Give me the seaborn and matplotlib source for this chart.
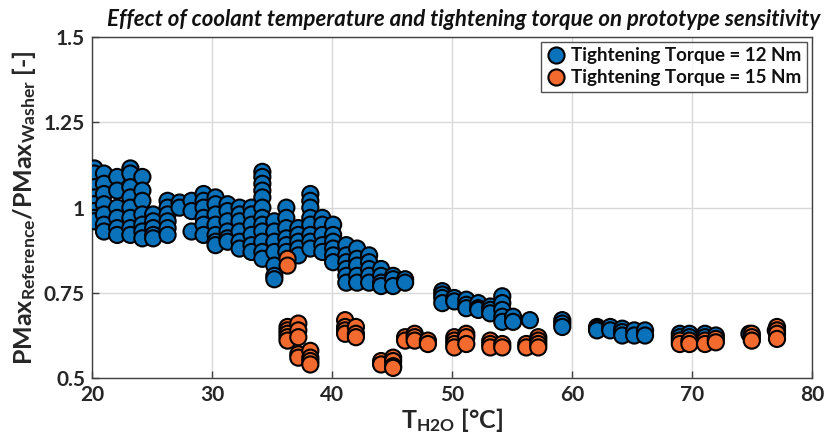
import numpy as np
import pandas as pd
import matplotlib
matplotlib.use("Agg")
import matplotlib.pyplot as plt
import seaborn as sns

# ---- data ----
blue_cols_x = [20.2, 21.0, 22.1, 23.2, 24.2, 25.1, 26.3, 27.3, 28.3, 29.3,
               30.3, 31.3, 32.3, 33.3, 34.2, 35.2, 36.2, 37.2, 38.2, 39.2,
               40.1, 41.2, 42.1, 43.1, 44.1, 45.1, 46.1, 49.2, 50.2, 51.2,
               52.2, 53.2, 54.2, 55.1, 56.5, 59.2, 62.1, 63.2, 64.2, 65.2,
               66.1, 69.0, 69.8, 71.1, 72.0, 74.8, 77.0]
blue_cols_y = [
    [1.115, 1.10, 1.06, 1.03, 1.01, 0.99, 0.97, 0.96],
    [1.10, 1.07, 1.04, 1.01, 0.98, 0.95, 0.93],
    [1.09, 1.05, 1.00, 0.97, 0.94, 0.92],
    [1.115, 1.10, 1.06, 1.03, 1.00, 0.97, 0.94, 0.92],
    [1.09, 1.05, 1.02, 0.98, 0.95, 0.93, 0.91],
    [0.98, 0.96, 0.94, 0.92, 0.91],
    [1.02, 1.00, 0.98, 0.96, 0.94, 0.92],
    [1.015, 1.00],
    [1.02, 0.99, 0.93],
    [1.04, 1.02, 1.00, 0.97, 0.95, 0.92],
    [1.03, 1.01, 0.98, 0.95, 0.92, 0.90, 0.89],
    [1.01, 0.99, 0.96, 0.93, 0.91, 0.90],
    [1.00, 0.98, 0.96, 0.93, 0.90, 0.88],
    [1.00, 0.98, 0.95, 0.92, 0.89, 0.87],
    [1.105, 1.09, 1.07, 1.05, 1.03, 1.00, 0.97, 0.95, 0.93, 0.90, 0.87, 0.85],
    [0.96, 0.93, 0.90, 0.87, 0.83, 0.80, 0.79],
    [1.00, 0.97, 0.94, 0.91, 0.89, 0.87],
    [0.94, 0.92, 0.90, 0.88, 0.86],
    [1.04, 1.02, 1.00, 0.97, 0.95, 0.92, 0.90, 0.88],
    [0.97, 0.95, 0.92, 0.89, 0.87],
    [0.95, 0.92, 0.90, 0.88, 0.86, 0.84],
    [0.89, 0.86, 0.84, 0.82, 0.80, 0.78],
    [0.88, 0.85, 0.83, 0.80, 0.78],
    [0.86, 0.84, 0.82, 0.80, 0.78],
    [0.82, 0.80, 0.78, 0.77],
    [0.80, 0.79, 0.77],
    [0.79, 0.78],
    [0.755, 0.745, 0.735, 0.72],
    [0.735, 0.725],
    [0.73, 0.715, 0.705],
    [0.72, 0.705, 0.70],
    [0.71, 0.70, 0.69],
    [0.74, 0.72, 0.70, 0.68, 0.665],
    [0.68, 0.665],
    [0.67],
    [0.67, 0.66, 0.65],
    [0.65, 0.645, 0.64],
    [0.65, 0.64],
    [0.645, 0.635, 0.625],
    [0.64, 0.625],
    [0.64, 0.625],
    [0.63, 0.62],
    [0.63, 0.62],
    [0.63, 0.62],
    [0.625],
    [0.63],
    [0.64],
]

orange_cols_x = [36.3, 37.2, 38.2, 41.1, 42.0, 44.1, 45.1, 46.1, 46.9, 48.0,
                 50.2, 51.2, 53.2, 54.2, 56.2, 57.2, 69.0, 69.8, 71.1, 72.0,
                 75.0, 77.1]
orange_cols_y = [
    [0.85, 0.83, 0.65, 0.64, 0.63, 0.62, 0.61],
    [0.66, 0.64, 0.62, 0.57, 0.56],
    [0.58, 0.56, 0.55, 0.54],
    [0.67, 0.65, 0.64, 0.63],
    [0.65, 0.63, 0.62],
    [0.55, 0.54],
    [0.56, 0.55, 0.535, 0.53],
    [0.62, 0.61],
    [0.63, 0.62, 0.61],
    [0.61, 0.60],
    [0.62, 0.61, 0.60, 0.59],
    [0.63, 0.62, 0.60],
    [0.61, 0.60, 0.59],
    [0.60, 0.59],
    [0.60, 0.59],
    [0.62, 0.61, 0.60, 0.59],
    [0.61, 0.60],
    [0.61, 0.60],
    [0.61, 0.60],
    [0.615, 0.605],
    [0.63, 0.62, 0.61],
    [0.65, 0.64, 0.63, 0.615],
]

labels = ["Tightening Torque = 12 Nm", "Tightening Torque = 15 Nm"]
x_ticks = [20, 30, 40, 50, 60, 70, 80]
y_ticks = [0.5, 0.75, 1.0, 1.25, 1.5]
y_tick_labels = ["0.5", "0.75", "1", "1.25", "1.5"]

rows = []
for lab, xs, ys in [(labels[0], blue_cols_x, blue_cols_y),
                    (labels[1], orange_cols_x, orange_cols_y)]:
    for xv, col in zip(xs, ys):
        for yv in col:
            rows.append({"T": xv, "ratio": yv, "series": lab})
df = pd.DataFrame(rows)

# ---- style ----
sns.set_theme(style="white")
plt.rcParams["font.family"] = ["Lato", "DejaVu Sans"]
plt.rcParams["font.weight"] = "bold"
plt.rcParams["mathtext.fontset"] = "custom"
plt.rcParams["mathtext.rm"] = "Lato:bold"
plt.rcParams["mathtext.it"] = "Lato:bold:italic"
plt.rcParams["mathtext.bf"] = "Lato:bold"

fig = plt.figure(figsize=(8.25, 4.48), dpi=100)
ax = fig.add_axes([0.1115, 0.156, 0.8725, 0.761])

palette = {labels[0]: "#0A72BA", labels[1]: "#F26A2E"}
sns.scatterplot(data=df, x="T", y="ratio", hue="series", hue_order=labels,
                palette=palette, s=135, edgecolor="black", linewidth=1.5,
                alpha=1, ax=ax, zorder=3, legend=True)

ax.set_xlim(20, 80)
ax.set_ylim(0.5, 1.5)
ax.set_xticks(x_ticks)
ax.set_yticks(y_ticks)
ax.set_yticklabels(y_tick_labels)
ax.grid(True, color="#d9d9d9", linewidth=1.0, zorder=0)
ax.set_axisbelow(True)
for sp in ax.spines.values():
    sp.set_visible(True)
    sp.set_color("#404040")
    sp.set_linewidth(1.0)
ax.tick_params(axis="both", direction="in", length=5, width=1, color="#404040",
               labelsize=15, labelcolor="#262626", pad=5,
               top=False, right=False, bottom=True, left=True)
for t in ax.get_xticklabels() + ax.get_yticklabels():
    t.set_fontweight("bold")

ax.set_xlabel(r"T$_{\mathrm{H2O}}$ [°C]", fontsize=18, fontweight="bold",
              color="#262626", labelpad=1)
ax.set_ylabel(r"PMax$_{\mathrm{Reference}}$/PMax$_{\mathrm{Washer}}$ [-]",
              fontsize=18, fontweight="bold", color="#262626", labelpad=4)

fig.text(0.994, 0.932, "Effect of coolant temperature and tightening torque on prototype sensitivity",
         ha="right", va="bottom", fontsize=16, fontweight="bold", style="italic",
         color="#111111")

leg = ax.legend(loc="upper right", frameon=True, fontsize=13.5, markerscale=1.0,
                handletextpad=0.3, borderpad=0.3, labelspacing=0.25,
                handlelength=1.0, fancybox=False, edgecolor="#262626",
                borderaxespad=0.25)
leg.get_frame().set_linewidth(1.0)
for t in leg.get_texts():
    t.set_fontweight("bold")
    t.set_color("#111111")

fig.savefig("out.png", dpi=100)
